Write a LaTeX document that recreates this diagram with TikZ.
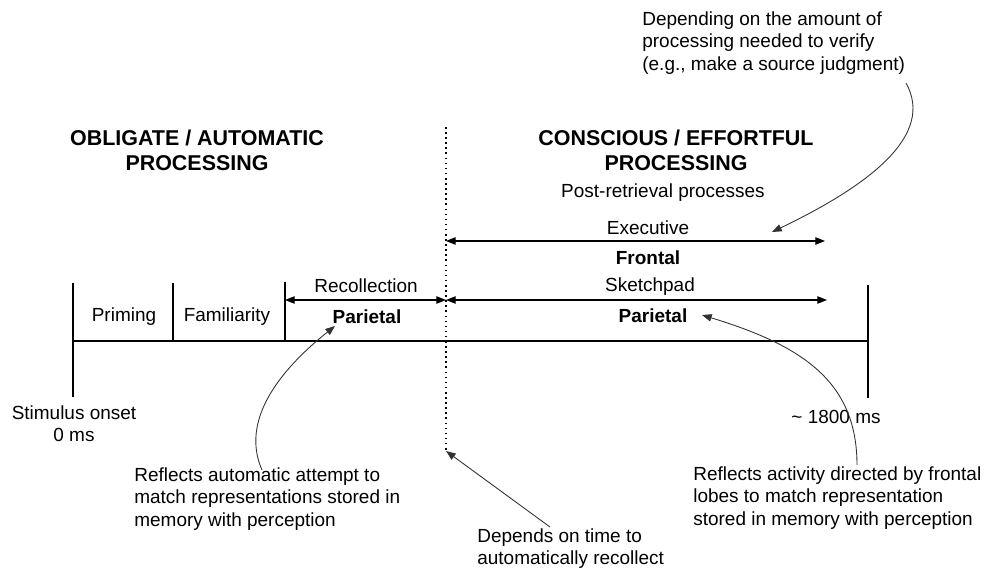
\documentclass[tikz,border=0pt]{standalone}
\usepackage{fontspec}
\setmainfont{Liberation Sans}
\usetikzlibrary{arrows.meta}

\tikzset{
  lbl/.style={inner sep=0pt, font=\fontsize{10.8}{12.6}\selectfont},
  boldlbl/.style={inner sep=0pt, font=\fontsize{10.8}{12.6}\selectfont\bfseries},
  heading/.style={inner sep=0pt, align=center, font=\fontsize{12.2}{14.3}\selectfont\bfseries},
  note/.style={lbl, align=left, anchor=west},
  span/.style={<->, line width=0.6pt},
  pointer/.style={->, line width=0.5pt, draw=black!80},
  tick/.style={line width=1.1pt},
}

\begin{document}
\begin{tikzpicture}[x=0.02cm, y=-0.02cm, >={Triangle[length=5.5pt,width=4.2pt]}]
\useasboundingbox (0,0) rectangle (988,572);

% time line and ticks
\coordinate (onset) at (73,341);
\coordinate (prime) at (173,341);
\coordinate (famil) at (285,341);
\coordinate (stop) at (868,341);
\draw[line width=1.7pt] (onset) -- (stop);
\draw[tick] (onset) ++(0,-58) -- ++(0,114);
\draw[tick] (prime) ++(0,-58) -- (prime);
\draw[tick] (famil) ++(0,-59) -- (famil);
\draw[tick] (stop) ++(0,-56) -- ++(0,113);

% divider
\coordinate (divtop) at (446,127);
\coordinate (divbot) at (446,451);
\draw[dotted, line width=0.9pt] (divtop) -- (divbot);

% spans
\coordinate (recl) at (285,300);
\coordinate (recr) at (446,300);
\coordinate (skr) at (827,300);
\coordinate (exl) at (446,241);
\coordinate (exr) at (825,241);
\draw[span] (recl) -- (recr);
\draw[span] (recr) -- (skr);
\draw[span] (exl) -- (exr);

% headings
\node[heading] (auto) at (197,150) {OBLIGATE / AUTOMATIC\\PROCESSING};
\node[heading] (consc) at (676,150) {CONSCIOUS / EFFORTFUL\\PROCESSING};
\node[lbl] (post) at (663,193) {Post-retrieval processes};

% labels
\node[lbl] (priming) at (124,317) {Priming};
\node[lbl] (familiar) at (227,317) {Familiarity};
\node[lbl] (recoll) at (366,286) {Recollection};
\node[boldlbl] (parl) at (367,317) {Parietal};
\node[lbl] (exec) at (648,228) {Executive};
\node[boldlbl] (front) at (648,258) {Frontal};
\node[lbl] (sketch) at (650,287) {Sketchpad};
\node[boldlbl] (parr) at (653,316) {Parietal};
\node[lbl, align=center] (start) at (74,424) {Stimulus onset\\0 ms};
\node[lbl] (end) at (836,417) {\textasciitilde{} 1800 ms};

% notes
\node[note] (verify) at (642,43) {Depending on the amount of\\processing needed to verify\\(e.g., make a source judgment)};
\node[note] (autonote) at (134,499) {Reflects automatic attempt to\\match representations stored in\\memory with perception};
\node[note] (timenote) at (477,549) {Depends on time to\\automatically recollect};
\node[note] (frontnote) at (693,498) {Reflects activity directed by frontal\\lobes to match representation\\stored in memory with perception};

% pointers
\coordinate (verifyout) at (906,83);
\coordinate (exectip) at (772,232);
\coordinate (autoout) at (262,470);
\coordinate (partip) at (335,326);
\coordinate (timeout) at (550,527);
\coordinate (frontout) at (857,465);
\coordinate (parrtip) at (702,315);
\draw[pointer] (verifyout) .. controls (935,135) and (870,185) .. (exectip);
\draw[pointer] (autoout) .. controls (240,420) and (280,370) .. (partip);
\draw[pointer] (timeout) -- (divbot);
\draw[pointer] (frontout) .. controls (857,380) and (800,345) .. (parrtip);
\end{tikzpicture}
\end{document}
